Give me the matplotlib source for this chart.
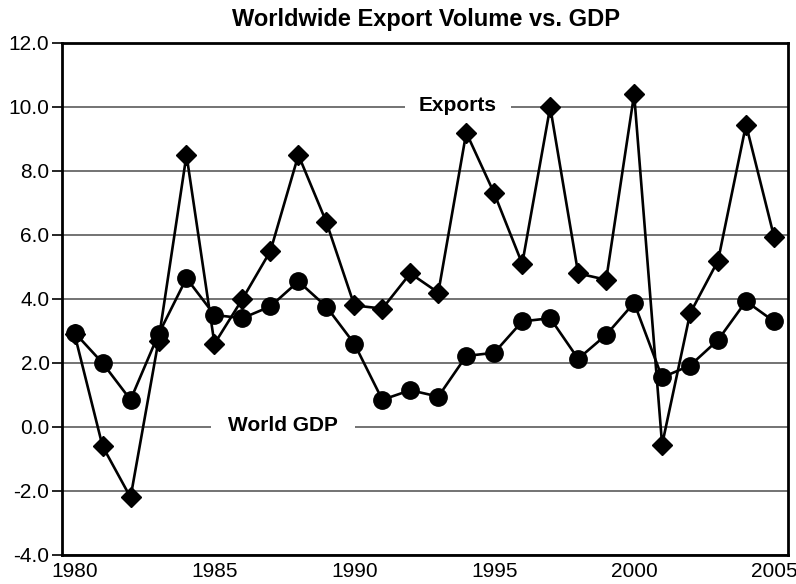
import numpy as np
import matplotlib
matplotlib.use("Agg")
import matplotlib.pyplot as plt

plt.rcParams['font.family'] = ['Liberation Sans', 'DejaVu Sans']

# Annual growth rates (%)
years = list(range(1980, 2006))
exports = [2.9, -0.6, -2.2, 2.7, 8.5, 2.6, 4.0, 5.5, 8.5, 6.4,
           3.8, 3.7, 4.8, 4.2, 9.2, 7.3, 5.1, 10.0, 4.8, 4.6,
           10.4, -0.55, 3.55, 5.2, 9.45, 5.95]
gdp = [2.95, 2.0, 0.85, 2.9, 4.65, 3.5, 3.4, 3.77, 4.55, 3.76,
       2.6, 0.85, 1.15, 0.95, 2.22, 2.32, 3.3, 3.4, 2.13, 2.88,
       3.88, 1.55, 1.92, 2.72, 3.93, 3.3]
yticks = np.arange(-4, 12.1, 2)
xticks = [1980, 1985, 1990, 1995, 2000, 2005]

fig = plt.figure(figsize=(7.96, 5.84), dpi=100)
ax = fig.add_axes([62/796, 29/584, 726/796, 512/584])

# gridlines
for y in yticks:
    ax.axhline(y, color='#4d4d4d', lw=1.1, zorder=1)

ax.plot(years, exports, color='black', lw=1.9, marker='D', ms=10.5, zorder=3)
ax.plot(years, gdp, color='black', lw=1.9, marker='o', ms=12.5, zorder=4)

# series labels sitting on the gridlines
ax.text(1993.7, 10.05, 'Exports', ha='center', va='center', fontsize=15,
        fontweight='bold', zorder=2,
        bbox=dict(facecolor='white', edgecolor='none', pad=10))
ax.text(1987.45, 0.05, 'World GDP', ha='center', va='center', fontsize=15,
        fontweight='bold', zorder=2,
        bbox=dict(facecolor='white', edgecolor='none', pad=12))

ax.set_xlim(1979.55, 2005.5)
ax.set_ylim(-4, 12)
ax.set_yticks(yticks)
ax.set_yticklabels(['%.1f' % v for v in yticks])
ax.set_xticks(xticks)
ax.tick_params(axis='y', length=7, width=1.2, labelsize=15, pad=2)
ax.tick_params(axis='x', length=0, labelsize=15, pad=5)

for s in ax.spines.values():
    s.set_linewidth(2)
    s.set_color('black')

fig.text(0.535, 0.966, 'Worldwide Export Volume vs. GDP', ha='center', va='center',
         fontsize=17, fontweight='bold')

plt.savefig('out.png', dpi=100)
